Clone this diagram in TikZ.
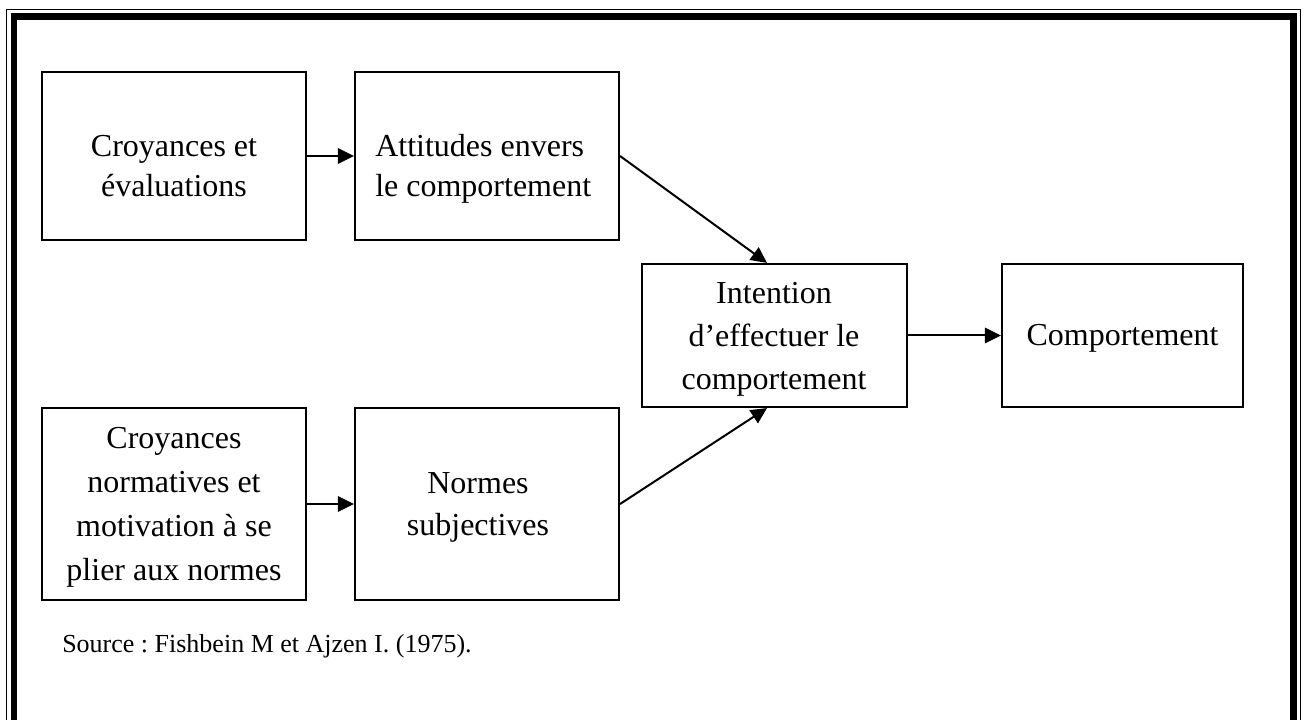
\documentclass[tikz,border=0pt]{standalone}
\usepackage{fontspec}
\setmainfont{Liberation Serif}
\usetikzlibrary{arrows.meta,calc}
\frenchspacing
\begin{document}
\begin{tikzpicture}[x=0.75pt,y=-0.75pt,
  frame/.style={draw, line width=1.6pt, inner sep=0pt},
  boxtext/.style={anchor=base, inner sep=0pt, align=center},
  link/.style={-{Triangle[length=12pt,width=11.5pt]}, line width=1.5pt}]

\useasboundingbox (0,0) rectangle (1307,720);
\clip (0,0) rectangle (1307,720);

% page border: thin outer rule and thick inner rule
\draw[line width=1pt] (6.5,9.5) rectangle (1300.8,800);
\draw[line width=5.2pt] (14,16.9) rectangle (1293.6,800);

% boxes
\node[frame, minimum width=198pt, minimum height=126pt] (cro) at (174,156) {};
\node[frame, minimum width=198pt, minimum height=126pt] (att) at (487,156) {};
\node[frame, minimum width=198.75pt, minimum height=107.25pt] (int) at (774.5,335.5) {};
\node[frame, minimum width=180.75pt, minimum height=107.25pt] (com) at (1122.5,335.5) {};
\node[frame, minimum width=198pt, minimum height=144pt] (crn) at (174,504) {};
\node[frame, minimum width=198pt, minimum height=144pt] (nor) at (487,504) {};

% box texts (each anchored on the baseline of its last line)
\node[boxtext, font=\fontsize{24}{30}\selectfont] (tcro) at (174,196.7) {Croyances et\\évaluations};
\node[boxtext, anchor=base west, align=left, font=\fontsize{24}{30}\selectfont] (tatt) at (375,196.7) {Attitudes envers\\le comportement};
\node[boxtext, font=\fontsize{24}{32}\selectfont] (tint) at (774,389) {Intention\\d’effectuer le\\comportement};
\node[boxtext, font=\fontsize{24}{30}\selectfont] (tcom) at (1122.5,346) {Comportement};
\node[boxtext, font=\fontsize{24}{33}\selectfont] (tcrn) at (174,580) {Croyances\\normatives et\\motivation à se\\plier aux normes};
\node[boxtext, font=\fontsize{24}{31}\selectfont] (tnor) at (478,535) {Normes\\subjectives};

% source line
\node[anchor=base west, inner sep=0pt, font=\fontsize{19.5}{24}\selectfont] (src) at (62,652.7) {Source : Fishbein M et Ajzen I. (1975).};

% connectors
\coordinate (intTop) at ($(int.north)+(-7.5,0)$);
\coordinate (intBot) at ($(int.south)+(-7.5,0)$);
\draw[link] (cro.east) -- (att.west);
\draw[link] (crn.east) -- (nor.west);
\draw[link] (att.east) -- (intTop);
\draw[link] (nor.east) -- (intBot);
\draw[link] (int.east) -- (com.west);
\end{tikzpicture}
\end{document}
